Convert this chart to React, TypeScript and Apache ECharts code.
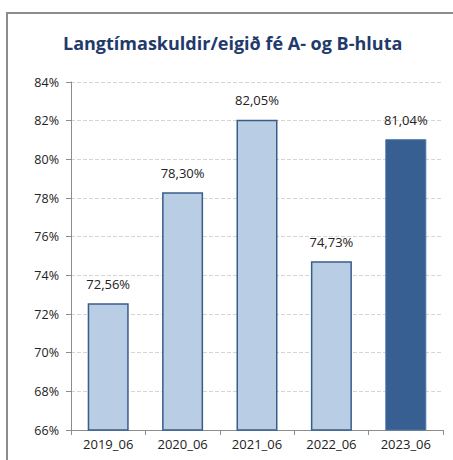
import React, { useEffect, useRef } from "react";
import * as echarts from "echarts";

const categories = ["2019_06", "2020_06", "2021_06", "2022_06", "2023_06"];
const values = [72.56, 78.3, 82.05, 74.73, 81.04];
const titleText = "Langtímaskuldir/eigið fé A- og B-hluta";

export default function App() {
  const ref = useRef<HTMLDivElement>(null);
  useEffect(() => {
    const chart = echarts.init(ref.current!, null, { renderer: "svg" });
    const font = "'Open Sans', 'DejaVu Sans', sans-serif";
    chart.setOption({
      animation: false,
      backgroundColor: "#ffffff",
      title: {
        text: titleText,
        left: 58,
        top: 29,
        textStyle: { fontFamily: font, fontSize: 18, fontWeight: "bold", color: "#1F3A6B" },
      },
      graphic: [
        {
          type: "rect",
          shape: { x: 7, y: 13, width: 500, height: 500 },
          style: { fill: "none", stroke: "#8c8c8c", lineWidth: 2 },
          silent: true,
        },
      ],
      grid: { left: 71, right: 10, top: 82, bottom: 30 },
      xAxis: {
        type: "category",
        data: categories,
        axisLine: { lineStyle: { color: "#8c8c8c", width: 1 } },
        axisTick: { show: true, alignWithLabel: false, length: 5, lineStyle: { color: "#8c8c8c" } },
        axisLabel: { color: "#222", fontFamily: font, fontSize: 13, margin: 7 },
      },
      yAxis: {
        type: "value",
        min: 66,
        max: 84,
        interval: 2,
        axisLine: { show: true, lineStyle: { color: "#8c8c8c", width: 1 } },
        axisTick: { show: true, length: 5, lineStyle: { color: "#8c8c8c" } },
        axisLabel: { color: "#222", fontFamily: font, fontSize: 12.5, margin: 12, formatter: (v: number) => v + "%" },
        splitLine: { show: true, lineStyle: { color: "#d6d6d6", type: "dashed", width: 1 } },
      },
      series: [
        {
          type: "bar",
          barWidth: 41,
          data: values.map((v, i) => ({
            value: v,
            itemStyle:
              i === values.length - 1
                ? { color: "#375F91", borderColor: "#4A74A8", borderWidth: 1 }
                : { color: "#B9CDE5", borderColor: "#385D8A", borderWidth: 1.5 },
          })),
          label: {
            show: true,
            position: "top",
            distance: 13,
            color: "#222",
            fontFamily: font,
            fontSize: 13,
            formatter: (p: any) => p.value.toFixed(2).replace(".", ",") + "%",
          },
        },
      ],
    });
    return () => chart.dispose();
  }, []);
  return (
    <div
      ref={ref}
      style={{ position: "fixed", left: 0, top: 0, width: 453, height: 460, background: "#fff" }}
    />
  );
}
